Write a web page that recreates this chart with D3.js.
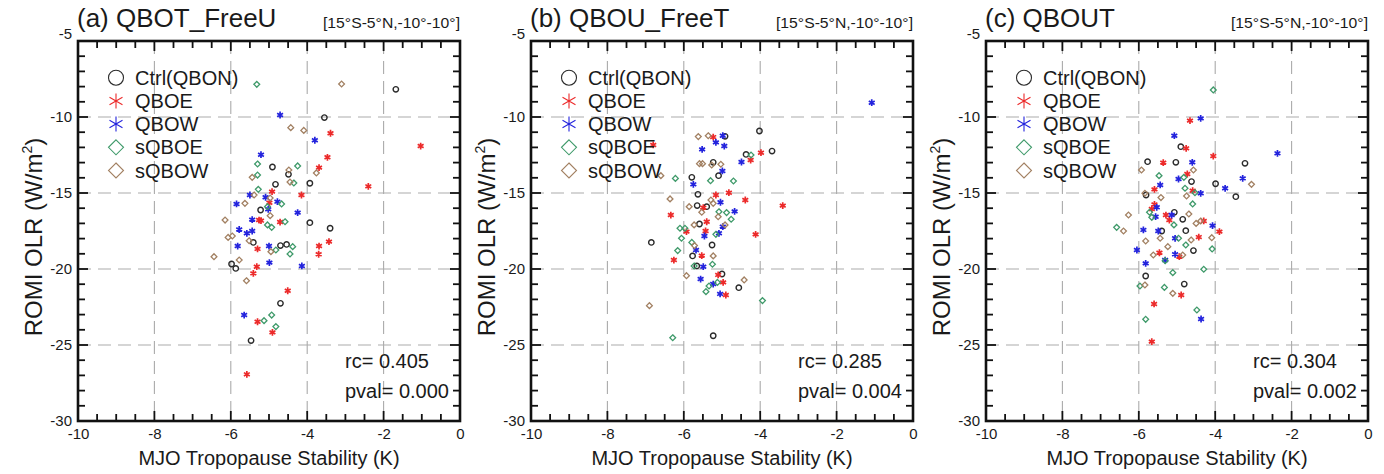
<!DOCTYPE html>
<html>
<head>
<meta charset="utf-8">
<script src="https://cdn.jsdelivr.net/npm/d3@7"></script>
<style>
  body { margin: 0; background: #fff; }
  text { font-family: "Liberation Sans", Arial, sans-serif; fill: #1a1a1a; }
</style>
</head>
<body>
<div id="chart"></div>
<script>
const panelTitles = ["(a) QBOT_FreeU", "(b) QBOU_FreeT", "(c) QBOUT"];
const regionLabel = "[15°S-5°N,-10°-10°]";
const seriesNames = ["Ctrl(QBON)", "QBOE", "QBOW", "sQBOE", "sQBOW"];
const rcValues = ["0.405", "0.285", "0.304"];
const pValues = ["0.000", "0.004", "0.002"];
const xTicks = [-10, -8, -6, -4, -2, 0];
const yTicks = [-30, -25, -20, -15, -10, -5];

// (a) QBOT_FreeU : [stability, olr]
const aCtrl = [[-1.68,-8.18],[-3.55,-10.04],[-4.91,-13.29],[-4.49,-13.77],[-4.83,-14.43],[-3.93,-14.36],[-5.22,-16.12],[-3.93,-16.95],[-3.40,-17.32],[-5.41,-18.25],[-4.70,-18.46],[-4.54,-18.38],[-5.98,-19.67],[-5.87,-19.96],[-4.70,-22.26],[-5.47,-24.71]];
const aQBOE = [[-3.39,-11.07],[-1.03,-11.91],[-3.47,-12.65],[-3.69,-13.33],[-2.40,-14.56],[-4.92,-14.91],[-4.15,-15.13],[-4.99,-15.64],[-5.26,-16.78],[-5.21,-16.82],[-4.71,-16.91],[-5.30,-18.68],[-3.69,-18.49],[-3.43,-18.20],[-3.70,-19.03],[-5.32,-19.85],[-5.41,-20.29],[-4.51,-21.43],[-5.30,-23.47],[-4.91,-24.17],[-5.58,-26.93]];
const aQBOW = [[-4.71,-9.87],[-3.80,-11.53],[-5.21,-12.48],[-5.50,-15.13],[-5.09,-15.28],[-4.78,-15.57],[-5.85,-15.72],[-5.02,-16.07],[-4.25,-16.29],[-5.44,-16.75],[-5.78,-17.40],[-5.58,-17.65],[-5.44,-17.50],[-5.82,-18.49],[-5.00,-18.49],[-4.99,-19.58],[-4.14,-19.80],[-5.65,-23.03]];
const aSQBOE = [[-5.32,-7.85],[-5.30,-13.09],[-4.25,-13.22],[-5.30,-13.82],[-4.35,-14.34],[-5.28,-14.76],[-4.67,-15.72],[-5.04,-15.90],[-4.58,-16.89],[-5.04,-17.10],[-4.93,-17.26],[-4.82,-18.75],[-4.38,-18.53],[-4.45,-19.01],[-5.13,-23.40],[-4.93,-23.03],[-4.82,-23.79]];
const aSQBOW = [[-3.10,-7.83],[-4.43,-10.70],[-4.09,-10.88],[-4.48,-13.49],[-3.76,-13.68],[-5.44,-13.97],[-4.45,-14.28],[-5.39,-15.13],[-4.97,-15.33],[-5.63,-15.68],[-4.97,-16.49],[-6.15,-16.78],[-6.07,-17.92],[-5.96,-17.83],[-5.52,-18.14],[-4.95,-18.86],[-6.44,-19.19],[-5.78,-19.41],[-5.59,-20.77]];

// (b) QBOU_FreeT
const bCtrl = [[-4.02,-10.92],[-4.92,-11.27],[-4.37,-12.46],[-3.69,-12.24],[-5.23,-12.98],[-5.09,-13.86],[-5.79,-13.97],[-5.63,-15.09],[-5.65,-15.83],[-5.40,-15.90],[-5.59,-17.04],[-6.85,-18.25],[-5.26,-18.42],[-5.77,-19.14],[-5.66,-19.80],[-5.00,-20.33],[-4.56,-21.23],[-5.23,-24.39]];
const bQBOE = [[-6.80,-11.84],[-5.23,-11.32],[-3.98,-12.35],[-4.25,-12.83],[-5.16,-15.13],[-4.82,-14.98],[-4.39,-15.46],[-3.41,-15.83],[-5.49,-15.96],[-6.34,-16.45],[-5.40,-16.89],[-5.93,-17.54],[-5.43,-17.50],[-4.12,-17.72],[-5.53,-19.12],[-6.26,-19.41],[-5.10,-20.39],[-4.97,-20.88],[-4.90,-21.71]];
const bQBOW = [[-1.08,-9.06],[-4.98,-11.23],[-5.16,-11.67],[-4.94,-11.91],[-5.52,-12.13],[-4.49,-12.96],[-4.99,-13.55],[-5.75,-14.43],[-5.04,-15.61],[-4.67,-16.21],[-4.98,-17.21],[-5.46,-17.83],[-5.08,-17.65],[-5.68,-18.75],[-5.49,-19.85],[-5.56,-20.66],[-5.23,-20.99],[-5.05,-21.64]];
const bSQBOE = [[-4.24,-12.50],[-6.22,-14.04],[-5.30,-14.19],[-4.70,-14.21],[-5.08,-16.23],[-4.88,-16.29],[-4.76,-16.73],[-6.10,-17.32],[-5.97,-17.32],[-5.16,-17.72],[-6.06,-17.98],[-5.79,-18.25],[-6.16,-18.79],[-5.25,-19.69],[-5.73,-19.80],[-5.12,-20.88],[-5.34,-21.12],[-5.42,-21.49],[-3.94,-22.08],[-6.29,-24.52]];
const bSQBOW = [[-5.62,-11.29],[-5.36,-11.23],[-5.59,-13.07],[-5.51,-13.07],[-5.27,-13.16],[-5.03,-13.11],[-6.60,-13.86],[-6.36,-15.39],[-5.29,-15.46],[-5.23,-15.68],[-5.86,-15.90],[-5.53,-16.27],[-5.10,-16.56],[-5.73,-17.10],[-4.92,-17.10],[-5.72,-18.46],[-5.23,-19.14],[-5.93,-20.44],[-4.42,-20.72],[-6.90,-22.41]];

// (c) QBOUT
const cCtrl = [[-4.90,-11.95],[-5.77,-12.94],[-5.03,-12.98],[-3.22,-13.05],[-4.62,-14.25],[-3.99,-14.39],[-3.46,-15.24],[-5.81,-15.13],[-5.07,-16.27],[-4.85,-16.73],[-5.40,-17.50],[-4.77,-17.48],[-4.57,-18.79],[-5.82,-20.46],[-4.81,-20.99]];
const cQBOE = [[-4.66,-10.24],[-4.76,-12.06],[-4.05,-12.57],[-5.36,-13.00],[-4.73,-13.75],[-5.59,-14.76],[-4.59,-14.85],[-5.59,-15.75],[-5.66,-16.05],[-5.29,-16.45],[-5.20,-16.78],[-4.30,-16.84],[-4.43,-17.90],[-3.89,-17.54],[-5.46,-18.93],[-4.94,-19.19],[-4.89,-21.71],[-5.60,-22.30],[-5.66,-24.78]];
const cQBOW = [[-4.38,-10.09],[-5.07,-11.23],[-2.37,-12.39],[-4.60,-12.98],[-4.96,-14.08],[-3.28,-14.04],[-5.44,-14.47],[-3.74,-14.69],[-4.38,-15.02],[-5.53,-15.94],[-5.14,-16.45],[-5.56,-16.56],[-4.07,-17.15],[-5.88,-17.43],[-5.49,-17.50],[-5.05,-17.98],[-6.05,-18.75],[-5.05,-19.03],[-5.31,-19.41],[-5.82,-19.63],[-4.37,-23.29]];
const cSQBOE = [[-4.05,-8.22],[-5.47,-13.86],[-4.82,-13.97],[-4.79,-14.69],[-4.53,-14.98],[-4.59,-15.72],[-5.72,-16.27],[-5.66,-16.60],[-5.08,-17.10],[-6.58,-17.26],[-4.96,-17.98],[-4.77,-18.42],[-4.08,-18.68],[-5.31,-19.45],[-4.30,-20.02],[-5.11,-20.24],[-5.97,-21.12],[-5.33,-21.21],[-4.48,-22.70],[-5.82,-23.31]];
const cSQBOW = [[-5.93,-13.49],[-4.57,-13.49],[-3.05,-14.43],[-5.84,-15.02],[-5.42,-15.30],[-4.75,-15.20],[-4.69,-16.38],[-6.27,-16.45],[-4.50,-17.00],[-4.38,-16.84],[-6.40,-17.50],[-4.63,-18.09],[-5.44,-17.98],[-5.82,-18.16],[-4.09,-17.94],[-5.24,-18.53],[-5.62,-19.08],[-4.85,-19.08],[-5.84,-21.05],[-5.11,-21.60]];

const panelData = [
    [aCtrl, aQBOE, aQBOW, aSQBOE, aSQBOW],
    [bCtrl, bQBOE, bQBOW, bSQBOE, bSQBOW],
    [cCtrl, cQBOE, cQBOW, cSQBOE, cSQBOW]
];

const markerTypes = ["circle", "star", "star", "diamond", "diamond"];
const markerColors = ["#2b2b2b", "#ec2a2a", "#2323dd", "#3f9a6a", "#a28062"];

const width = 1384;
const height = 474;
const panelLeft = [78, 531, 986];
const plotTop = 41;
const plotW = 382;
const plotH = 380;

// marker shapes as path strings, centred on 0,0
function markerPath(type, s) {
    if (type === "circle") {
        return `M${s},0A${s},${s} 0 1,1 ${-s},0A${s},${s} 0 1,1 ${s},0Z`;
    }
    if (type === "diamond") {
        return `M0,${-s}L${s},0L0,${s}L${-s},0Z`;
    }
    const c = s * Math.cos(Math.PI / 6);
    const h = s * Math.sin(Math.PI / 6);
    return `M0,${-s}L0,${s}M${-c},${-h}L${c},${h}M${-c},${h}L${c},${-h}`;
}

const dataSize = { circle: 2.7, star: 3.4, diamond: 2.9 };
const dataStroke = { circle: 1.4, star: 1.7, diamond: 1.3 };

const svg = d3.select('#chart')
    .append('svg')
        .attr('width', width)
        .attr('height', height);

const x = d3.scaleLinear().domain([-10, 0]).range([0, plotW]);
const y = d3.scaleLinear().domain([-30, -5]).range([plotH, 0]);
const xMinor = d3.range(-10, 0.001, 0.5).filter(v => !xTicks.includes(v));
const yMinor = d3.range(-30, -4.999, 1).filter(v => !yTicks.includes(v));

// tick marks drawn inwards from one side of the frame
function drawTicks(g, vals, len, side) {
    const horiz = side === 'bottom' || side === 'top';
    g.append('g')
        .selectAll('line')
        .data(vals)
        .join('line')
            .attr('x1', d => horiz ? x(d) : (side === 'left' ? 0 : plotW))
            .attr('x2', d => horiz ? x(d) : (side === 'left' ? len : plotW - len))
            .attr('y1', d => horiz ? (side === 'top' ? 0 : plotH) : y(d))
            .attr('y2', d => horiz ? (side === 'top' ? len : plotH - len) : y(d))
            .attr('stroke', '#111')
            .attr('stroke-width', 1.8);
}

panelTitles.forEach((title, i) => {
    const g = svg.append('g')
        .attr('transform', `translate(${panelLeft[i]},${plotTop})`);

    // dashed grid at interior major ticks
    g.selectAll('.grid-x')
        .data(xTicks.slice(1, -1))
        .join('line')
            .attr('x1', d => x(d))
            .attr('x2', d => x(d))
            .attr('y1', 0)
            .attr('y2', plotH)
            .attr('stroke', '#ababab')
            .attr('stroke-width', 1.1)
            .attr('stroke-dasharray', '13,7');

    g.selectAll('.grid-y')
        .data(yTicks.slice(1, -1))
        .join('line')
            .attr('x1', 0)
            .attr('x2', plotW)
            .attr('y1', d => y(d))
            .attr('y2', d => y(d))
            .attr('stroke', '#ababab')
            .attr('stroke-width', 1.1)
            .attr('stroke-dasharray', '13,7');

    // scatter points
    panelData[i].forEach((series, j) => {
        const type = markerTypes[j];
        g.append('g')
            .selectAll('path')
            .data(series)
            .join('path')
                .attr('transform', d => `translate(${x(d[0])},${y(d[1])})`)
                .attr('d', markerPath(type, dataSize[type]))
                .attr('fill', 'none')
                .attr('stroke', markerColors[j])
                .attr('stroke-width', dataStroke[type]);
    });

    // legend
    const legend = g.append('g');
    seriesNames.forEach((name, j) => {
        const ly = 36.7 + j * 23.2;
        legend.append('path')
            .attr('transform', `translate(38,${ly})`)
            .attr('d', markerPath(markerTypes[j], 7.5))
            .attr('fill', 'none')
            .attr('stroke', markerColors[j])
            .attr('stroke-width', 1.1);
        legend.append('text')
            .attr('x', 57)
            .attr('y', ly + 7)
            .attr('font-size', 20)
            .text(name);
    });

    // tick labels from d3 axes, tick marks drawn separately
    const xAxis = g.append('g')
        .attr('transform', `translate(0,${plotH})`)
        .call(d3.axisBottom(x).tickValues(xTicks).tickSize(0).tickPadding(7).tickFormat(d => d));
    xAxis.select('.domain').remove();
    xAxis.attr('font-size', 15);

    const yAxis = g.append('g')
        .call(d3.axisLeft(y).tickValues(yTicks).tickSize(0).tickPadding(6).tickFormat(d => d));
    yAxis.select('.domain').remove();
    yAxis.attr('font-size', 15);
    yAxis.selectAll('text')
        .filter(d => d === -5)
        .attr('dy', '-0.2em');

    ['bottom', 'top'].forEach(side => {
        drawTicks(g, xTicks, 10, side);
        drawTicks(g, xMinor, 7, side);
    });
    ['left', 'right'].forEach(side => {
        drawTicks(g, yTicks, 10, side);
        drawTicks(g, yMinor, 7, side);
    });

    // frame
    g.append('rect')
        .attr('width', plotW)
        .attr('height', plotH)
        .attr('fill', 'none')
        .attr('stroke', '#111')
        .attr('stroke-width', 2.6);

    // titles and statistics
    g.append('text')
        .attr('x', -1)
        .attr('y', -14)
        .attr('font-size', 26)
        .text(title);

    g.append('text')
        .attr('x', plotW)
        .attr('y', -13)
        .attr('text-anchor', 'end')
        .attr('font-size', 15)
        .attr('textLength', 137)
        .attr('lengthAdjust', 'spacingAndGlyphs')
        .text(regionLabel);

    g.append('text')
        .attr('x', 267)
        .attr('y', 327)
        .attr('font-size', 20)
        .text(`rc= ${rcValues[i]}`);

    g.append('text')
        .attr('x', 267)
        .attr('y', 357)
        .attr('font-size', 20)
        .text(`pval= ${pValues[i]}`);

    g.append('text')
        .attr('x', plotW / 2)
        .attr('y', 424)
        .attr('text-anchor', 'middle')
        .attr('font-size', 20)
        .text('MJO Tropopause Stability (K)');

    const yLabel = g.append('text')
        .attr('transform', `translate(-36,${plotH / 2 + 6}) rotate(-90)`)
        .attr('text-anchor', 'middle')
        .attr('font-size', 24);
    yLabel.append('tspan').text('ROMI OLR (W/m');
    yLabel.append('tspan')
        .attr('font-size', 14)
        .attr('dy', -10)
        .text('2');
    yLabel.append('tspan')
        .attr('dy', 10)
        .text(')');
});
</script>
</body>
</html>
